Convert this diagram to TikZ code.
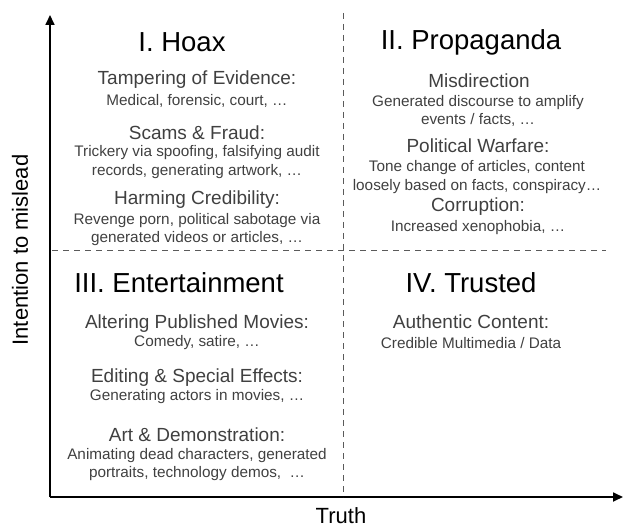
\documentclass[tikz,border=0pt]{standalone}
\usepackage{fontspec}
\setmainfont{Liberation Sans}
\usetikzlibrary{arrows.meta}
\definecolor{textgray}{RGB}{64,64,64}
\definecolor{dashgray}{RGB}{90,90,90}

\begin{document}
\begin{tikzpicture}[x=1pt, y=-1pt,
  axis/.style={-{Triangle[length=10pt,width=9pt]}, line width=1.7pt},
  divider/.style={dash pattern=on 6pt off 5pt, dashgray, line width=0.9pt},
  axislabel/.style={font=\fontsize{22}{26}\selectfont, black},
  title/.style={font=\fontsize{27.5}{31}\selectfont, black},
  head/.style={font=\fontsize{19}{22}\selectfont, textgray},
  detail/.style={font=\fontsize{15.3}{18.8}\selectfont, textgray, align=center}]
\useasboundingbox (0,0) rectangle (623,529);
% axes
\coordinate (origin) at (50,497);
\coordinate (ytip) at (50,15);
\coordinate (xtip) at (623,497);
\draw[axis] (origin) -- (ytip);
\draw[axis] (origin) -- (xtip);
\node[axislabel, rotate=90] (ylabel) at (20,250) {Intention to mislead};
\node[axislabel] (xlabel) at (341,516) {Truth};
% quadrant dividers
\coordinate (vtop) at (343,13);
\coordinate (vbottom) at (343,497);
\coordinate (hleft) at (52,250);
\coordinate (hright) at (606,250);
\draw[divider] (vtop) -- (vbottom);
\draw[divider] (hleft) -- (hright);
% I. Hoax
\node[title] (hoax) at (182,42) {I. Hoax};
\node[head] (tamper) at (197,80) {Tampering of Evidence:};
\node[detail] (tamperd) at (197,101) {Medical, forensic, court, …};
\node[head] (scams) at (197,133) {Scams \& Fraud:};
\node[detail] (scamsd) at (197,162) {Trickery via spoofing, falsifying audit\\records, generating artwork, …};
\node[head] (harm) at (197,200) {Harming Credibility:};
\node[detail] (harmd) at (197,229.5) {Revenge porn, political sabotage via\\generated videos or articles, …};
% II. Propaganda
\node[title] (propaganda) at (471,42) {II. Propaganda};
\node[head] (misdir) at (479,81) {Misdirection};
\node[detail] (misdird) at (478,111) {Generated discourse to amplify\\events / facts, …};
\node[head] (warfare) at (478,146) {Political Warfare:};
\node[detail] (warfared) at (477,177) {Tone change of articles, content\\loosely based on facts, conspiracy…};
\node[head] (corrupt) at (478,207) {Corruption:};
\node[detail] (corruptd) at (478,228) {Increased xenophobia, …};
% III. Entertainment
\node[title] (entertain) at (179,283) {III. Entertainment};
\node[head] (altering) at (197,324) {Altering Published Movies:};
\node[detail] (alteringd) at (197,343) {Comedy, satire, …};
\node[head] (editing) at (197,378) {Editing \& Special Effects:};
\node[detail] (editingd) at (197,397) {Generating actors in movies, …};
\node[head] (art) at (197,435) {Art \& Demonstration:};
\node[detail] (artd) at (197,464.5) {Animating dead characters, generated\\portraits, technology demos,~ …};
% IV. Trusted
\node[title] (trusted) at (471,283) {IV. Trusted};
\node[head] (authentic) at (471,322) {Authentic Content:};
\node[detail] (authenticd) at (471,343) {Credible Multimedia / Data};
\end{tikzpicture}
\end{document}
